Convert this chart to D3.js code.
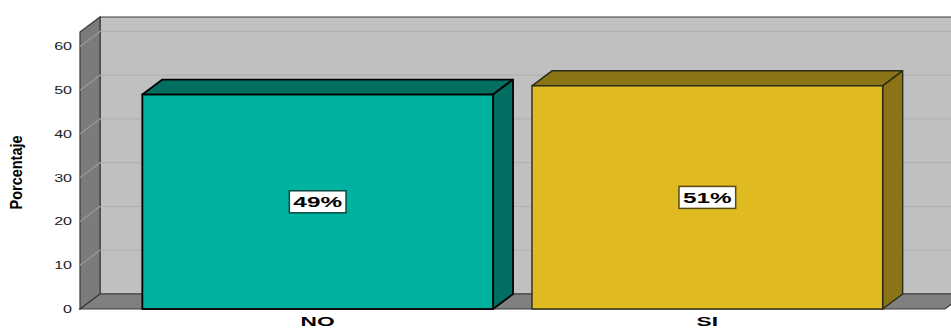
<!DOCTYPE html>
<html>
<head>
<meta charset="utf-8">
<script src="https://cdn.jsdelivr.net/npm/d3@7"></script>
<style>
  html, body { margin: 0; padding: 0; background: #ffffff; }
  svg { display: block; }
</style>
</head>
<body>
<svg id="chart" width="951" height="329"></svg>
<script>
// Data
const categories = ["NO", "SI"];
const values = [49, 51];
const valueLabels = ["49%", "51%"];
const yTicks = [0, 10, 20, 30, 40, 50, 60];
const yTitle = "Porcentaje";

// Colours
const frontColors = ["#00B3A0", "#DFBA21"];
const sideColors = ["#006F61", "#8A7416"];
const strokeColors = ["#000000", "#2a2a1a"];

const width = 951, height = 329;
const depthX = 20, depthY = -15;   // 3D offset of the back plane
const wallTop = 63.3;               // value at the top of the walls
const font = "Liberation Sans, Arial, sans-serif";

const svg = d3.select("#chart");

const x = d3.scaleBand()
  .domain(categories)
  .range([80, 945])
  .paddingInner(0.1)
  .paddingOuter(0.16);

const y = d3.scaleLinear()
  .domain([0, wallTop])
  .range([309, 32]);

const x0 = x.range()[0], x1 = x.range()[1];
const yBase = y(0), yTop = y(wallTop);

const poly = pts => pts.map(p => p.join(",")).join(" ");

// Back wall
svg.append("polygon")
  .attr("points", poly([[x0 + depthX, yTop + depthY], [x1 + depthX + 40, yTop + depthY],
                        [x1 + depthX + 40, yBase + depthY], [x0 + depthX, yBase + depthY]]))
  .attr("fill", "#C0C0C0")
  .attr("stroke", "#3a3a3a")
  .attr("stroke-width", 1.2);

// Left wall
svg.append("polygon")
  .attr("points", poly([[x0, yTop], [x0 + depthX, yTop + depthY],
                        [x0 + depthX, yBase + depthY], [x0, yBase]]))
  .attr("fill", "#7B7B7B")
  .attr("stroke", "#3a3a3a")
  .attr("stroke-width", 1.2);

// Gridlines on back wall and left wall
const grid = svg.append("g");
yTicks.filter(t => t > 0).forEach(t => {
  grid.append("line")
    .attr("x1", x0 + depthX).attr("x2", width)
    .attr("y1", y(t) + depthY).attr("y2", y(t) + depthY)
    .attr("stroke", "#B0B0B0").attr("stroke-width", 1.2);
  grid.append("line")
    .attr("x1", x0).attr("x2", x0 + depthX)
    .attr("y1", y(t)).attr("y2", y(t) + depthY)
    .attr("stroke", "#9a9a9a").attr("stroke-width", 1.2);
});

// Floor
svg.append("polygon")
  .attr("points", poly([[x0, yBase], [x0 + depthX, yBase + depthY],
                        [x1 + depthX, yBase + depthY], [x1, yBase]]))
  .attr("fill", "#808080")
  .attr("stroke", "#3a3a3a")
  .attr("stroke-width", 1.2);

// Y tick labels (wide lettering)
svg.append("g").selectAll("text")
  .data(yTicks)
  .join("text")
  .attr("transform", d => `translate(72, ${y(d)}) scale(1.5, 1)`)
  .attr("dy", "0.36em")
  .attr("text-anchor", "end")
  .attr("font-family", font)
  .attr("font-size", 10.7)
  .attr("fill", "#222")
  .text(d => d);

// Y axis title
svg.append("text")
  .attr("transform", `translate(22, ${y(31.2)}) scale(1.1, 1) rotate(-90)`)
  .attr("text-anchor", "middle")
  .attr("font-family", font)
  .attr("font-weight", "bold")
  .attr("font-size", 14.5)
  .attr("fill", "#000")
  .text(yTitle);

// Bars
const bars = svg.append("g").selectAll("g")
  .data(categories.map((c, i) => ({ c, v: values[i], i })))
  .join("g");

bars.each(function(d) {
  const g = d3.select(this);
  const bx0 = x(d.c), bx1 = x(d.c) + x.bandwidth();
  const by0 = y(0), by1 = y(d.v);
  const sw = d.i === 0 ? 1.8 : 1.4;
  // top face
  g.append("polygon")
    .attr("points", poly([[bx0, by1], [bx0 + depthX, by1 + depthY], [bx1 + depthX, by1 + depthY], [bx1, by1]]))
    .attr("fill", sideColors[d.i]).attr("stroke", strokeColors[d.i]).attr("stroke-width", sw)
    .attr("stroke-linejoin", "round");
  // side face
  g.append("polygon")
    .attr("points", poly([[bx1, by1], [bx1 + depthX, by1 + depthY], [bx1 + depthX, by0 + depthY], [bx1, by0]]))
    .attr("fill", sideColors[d.i]).attr("stroke", strokeColors[d.i]).attr("stroke-width", sw)
    .attr("stroke-linejoin", "round");
  // front face
  g.append("rect")
    .attr("x", bx0).attr("y", by1)
    .attr("width", bx1 - bx0).attr("height", by0 - by1)
    .attr("fill", frontColors[d.i]).attr("stroke", strokeColors[d.i]).attr("stroke-width", sw);
});

// Value labels in boxes
const labelStretch = 1.62;
bars.each(function(d) {
  const g = d3.select(this);
  const cx = x(d.c) + x.bandwidth() / 2;
  const cy = y(d.v / 2);
  const t = g.append("text")
    .attr("transform", `translate(${cx}, ${cy}) scale(${labelStretch}, 1)`)
    .attr("dy", "0.36em")
    .attr("text-anchor", "middle")
    .attr("font-family", font)
    .attr("font-weight", "bold")
    .attr("font-size", 15)
    .attr("fill", "#000")
    .text(valueLabels[d.i]);
  const w = t.node().getBBox().width * labelStretch;
  g.insert("rect", "text")
    .attr("x", cx - w / 2 - 4).attr("y", cy - 11)
    .attr("width", w + 8).attr("height", 22)
    .attr("fill", "#fff")
    .attr("stroke", d.i === 0 ? "#0a4a40" : "#5a4a10")
    .attr("stroke-width", 1.5);
});

// Category labels (wide lettering)
svg.append("g").selectAll("text")
  .data(categories)
  .join("text")
  .attr("transform", d => `translate(${x(d) + x.bandwidth() / 2}, 326) scale(1.9, 1)`)
  .attr("text-anchor", "middle")
  .attr("font-family", font)
  .attr("font-weight", "bold")
  .attr("font-size", 12)
  .attr("fill", "#000")
  .text(d => d);
</script>
</body>
</html>
